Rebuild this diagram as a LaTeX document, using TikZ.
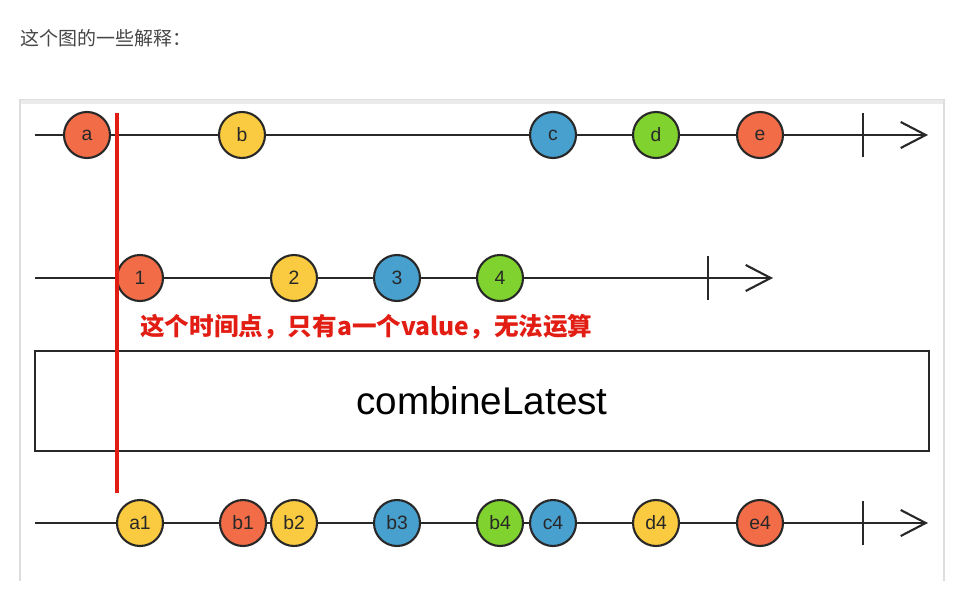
\documentclass[tikz,border=0pt]{standalone}
\usepackage{fontspec}
\setmainfont{Liberation Sans}
\newfontfamily\cjk{Noto Sans CJK SC}
\newfontfamily\cjkbold{Noto Sans CJK SC Black}
\usepackage{tikz}
\usetikzlibrary{arrows.meta,positioning}
\definecolor{ballred}{RGB}{242,108,72}
\definecolor{ballyellow}{RGB}{250,202,64}
\definecolor{ballblue}{RGB}{72,160,206}
\definecolor{ballgreen}{RGB}{128,210,46}
\definecolor{markred}{RGB}{226,30,20}
\definecolor{framegray}{RGB}{222,222,222}
\definecolor{headgray}{RGB}{70,70,70}
\definecolor{inkgray}{RGB}{40,40,40}

\tikzset{
  ball/.style={circle, draw=inkgray, line width=1.2pt, minimum size=0.92cm,
               inner sep=0pt, font=\fontsize{11}{11}\selectfont, text=inkgray},
  timeline/.style={draw=inkgray, line width=1.2pt,
                   -{Straight Barb[length=5mm, width=5.2mm, line width=1.2pt]}},
  tick/.style={draw=inkgray, line width=1.2pt},
}

\begin{document}
\begin{tikzpicture}[x=0.02cm, y=-0.02cm]
  \useasboundingbox (0,0) rectangle (966,595);
  % heading
  \node[anchor=west, inner sep=0pt, text=headgray, font=\cjk\fontsize{10.8}{10.8}\selectfont] (head) at (20,38) {这个图的一些解释：};
  % frame of the screenshot
  \draw[framegray, line width=1pt] (20,581) -- (20,100) -- (944,100) -- (944,581);
  \draw[framegray!60, line width=2pt] (21,102) -- (943,102);

  % first stream
  \coordinate (s1) at (35,135);
  \coordinate (t1) at (928,135);
  \draw[timeline] (s1) -- (t1);
  \draw[tick] (863,113) coordinate (k1a) -- (863,157) coordinate (k1b);
  \node[ball, fill=ballred]    (a) at (87,135)  {a};
  \node[ball, fill=ballyellow] (b) at (242,135) {b};
  \node[ball, fill=ballblue]   (c) at (553,135) {c};
  \node[ball, fill=ballgreen]  (d) at (656,135) {d};
  \node[ball, fill=ballred]    (e) at (760,135) {e};

  % second stream
  \coordinate (s2) at (35,278);
  \coordinate (t2) at (773,278);
  \draw[timeline] (s2) -- (t2);
  \draw[tick] (708,256) coordinate (k2a) -- (708,300) coordinate (k2b);
  \node[ball, fill=ballred]    (n1) at (140,278) {1};
  \node[ball, fill=ballyellow] (n2) at (294,278) {2};
  \node[ball, fill=ballblue]   (n3) at (397,278) {3};
  \node[ball, fill=ballgreen]  (n4) at (500,278) {4};

  % note
  \node[anchor=west, text=markred, font=\cjkbold\fontsize{14}{14}\selectfont,
        inner sep=0pt] (note) at (140,327) {这个时间点，只有a一个value，无法运算};

  % operator box
  \node[draw=inkgray, line width=1.2pt, minimum width=17.88cm, minimum height=2cm,
        inner sep=0pt, font=\fontsize{22}{22}\selectfont, text=black]
        (op) at (482,401) {combineLatest};

  % result stream
  \coordinate (s3) at (35,523);
  \coordinate (t3) at (928,523);
  \draw[timeline] (s3) -- (t3);
  \draw[tick] (863,501) coordinate (k3a) -- (863,545) coordinate (k3b);
  \node[ball, fill=ballyellow] (a1) at (140,523) {a1};
  \node[ball, fill=ballred]    (b1) at (243,523) {b1};
  \node[ball, fill=ballyellow] (b2) at (294,523) {b2};
  \node[ball, fill=ballblue]   (b3) at (397,523) {b3};
  \node[ball, fill=ballgreen]  (b4) at (500,523) {b4};
  \node[ball, fill=ballblue]   (c4) at (553,523) {c4};
  \node[ball, fill=ballyellow] (d4) at (656,523) {d4};
  \node[ball, fill=ballred]    (e4) at (760,523) {e4};

  % moment marker
  \coordinate (m1) at (117,113);
  \coordinate (m2) at (117,493);
  \draw[markred, line width=1.8pt] (m1) -- (m2);
\end{tikzpicture}
\end{document}
